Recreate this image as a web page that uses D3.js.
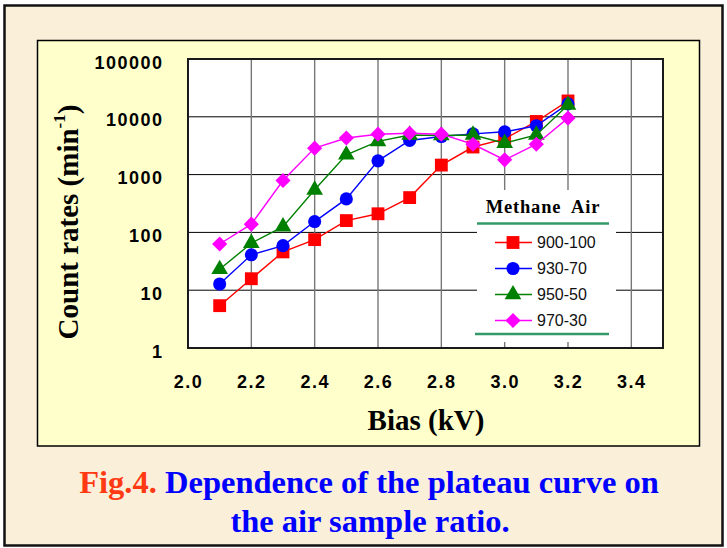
<!DOCTYPE html>
<html>
<head>
<meta charset="utf-8">
<script src="https://cdn.jsdelivr.net/npm/d3@7"></script>
<style>
  body { margin: 0; background: #fff; }
</style>
</head>
<body>
<div id="plateau"></div>
<script>
// values
const biasKV = [2.1, 2.2, 2.3, 2.4, 2.5, 2.6, 2.7, 2.8, 2.9, 3.0, 3.1, 3.2]
const rate900 = [5.4, 15.8, 46, 75, 160, 210, 400, 1460, 3000, 4150, 8300, 18800]
const rate930 = [12.8, 41, 59, 154, 380, 1730, 3900, 4550, 5060, 5500, 7000, 16700]
const rate950 = [23, 65, 126, 545, 2200, 3750, 4850, 4750, 4850, 3500, 4850, 16000]
const rate970 = [63, 139, 790, 2870, 4300, 5000, 5200, 5000, 3350, 1800, 3350, 9500]
const seriesNames = ["900-100", "930-70", "950-50", "970-30"]
const xTicks = [2.0, 2.2, 2.4, 2.6, 2.8, 3.0, 3.2, 3.4]
const yTicks = [1, 10, 100, 1000, 10000, 100000]

const colors = ["#ff0000", "#0000ff", "#008000", "#ff00ff"]
// diamond = square turned 45 degrees
const shapes = [d3.symbolSquare, d3.symbolCircle, d3.symbolTriangle, d3.symbolSquare]
const shapeSize = [165, 135, 120, 115]
const shapeTurn = [0, 0, 0, 45]

let plot = {left: 188, right: 663, top: 59, bottom: 348}

let svg = d3.select("#plateau")
            .append('svg')
            .attr('width', 727)
            .attr('height', 548)

// outer slide frame and chart panel
svg.append('rect')
   .attr('x', 4.5).attr('y', 5.5).attr('width', 718).attr('height', 540)
   .attr('fill', '#faf0da').attr('stroke', '#111').attr('stroke-width', 2.5)
svg.append('rect')
   .attr('x', 37.5).attr('y', 40.5).attr('width', 662).attr('height', 405.5)
   .attr('fill', '#ffffcc').attr('stroke', '#000').attr('stroke-width', 1.5)

let x = d3.scaleLinear()
          .domain([2.0, 3.5])
          .range([plot.left, plot.right])
let y = d3.scaleLog()
          .domain([1, 100000])
          .range([plot.bottom, plot.top])

svg.append('rect')
   .attr('x', plot.left).attr('y', plot.top)
   .attr('width', plot.right - plot.left).attr('height', plot.bottom - plot.top)
   .attr('fill', '#fff')

// grid
svg.append('g')
   .selectAll('line')
   .data(yTicks.slice(1, -1))
   .join('line')
   .attr('x1', plot.left).attr('x2', plot.right)
   .attr('y1', d => y(d)).attr('y2', d => y(d))
   .attr('stroke', '#000').attr('stroke-width', 1)
svg.append('g')
   .selectAll('line')
   .data(xTicks.slice(1))
   .join('line')
   .attr('x1', d => x(d)).attr('x2', d => x(d))
   .attr('y1', plot.top).attr('y2', plot.bottom)
   .attr('stroke', '#777').attr('stroke-width', 1.4)

// legend background hides the grid
let lg = {x: 477, y: 190, w: 139, h: 152}
svg.append('rect')
   .attr('x', lg.x).attr('y', lg.y).attr('width', lg.w).attr('height', lg.h)
   .attr('fill', '#fff')

svg.append('rect')
   .attr('x', plot.left).attr('y', plot.top)
   .attr('width', plot.right - plot.left).attr('height', plot.bottom - plot.top)
   .attr('fill', 'none').attr('stroke', '#1a1a1a').attr('stroke-width', 2)

// axes
let yAxis = svg.append('g')
               .attr('transform', "translate(" + plot.left + ",0)")
               .call(d3.axisLeft(y).tickValues(yTicks).tickFormat(d3.format("d"))
                       .tickSize(0).tickPadding(24.5))
yAxis.select('.domain').remove()
yAxis.selectAll('text')
     .attr('dy', '0.5em')
     .style('font-family', "'Liberation Sans', Arial, sans-serif")
     .style('font-size', '18px').style('font-weight', 'bold')
     .style('letter-spacing', '1.5px').attr('fill', '#000')

let xAxis = svg.append('g')
               .attr('transform', "translate(0," + plot.bottom + ")")
               .call(d3.axisBottom(x).tickValues(xTicks).tickFormat(d3.format(".1f"))
                       .tickSize(0).tickPadding(27))
xAxis.select('.domain').remove()
xAxis.selectAll('text')
     .style('font-family', "'Liberation Sans', Arial, sans-serif")
     .style('font-size', '18px').style('font-weight', 'bold')
     .style('letter-spacing', '1.5px').attr('fill', '#000')

// axis titles
svg.append('text')
   .attr('x', 426).attr('y', 430)
   .attr('text-anchor', 'middle')
   .style('font-family', "'Liberation Serif', 'Times New Roman', serif")
   .style('font-size', '29px').style('font-weight', 'bold')
   .text("Bias (kV)")

let yTitle = svg.append('text')
                .attr('transform', "translate(78,222) rotate(-90)")
                .attr('text-anchor', 'middle')
                .style('font-family', "'Liberation Serif', 'Times New Roman', serif")
                .style('font-size', '29px').style('font-weight', 'bold')
yTitle.append('tspan').text("Count rates (min")
yTitle.append('tspan').attr('dy', -13).style('font-size', '17px').text("-1")
yTitle.append('tspan').attr('dy', 13).text(")")

// series
const allRates = [rate900, rate930, rate950, rate970]
let line = d3.line()
             .x(d => x(d[0]))
             .y(d => y(d[1]))

allRates.forEach(function(rates, i) {
    let pts = biasKV.map((b, k) => [b, rates[k]])
    svg.append('path')
       .datum(pts)
       .attr('d', line)
       .attr('fill', 'none')
       .attr('stroke', colors[i])
       .attr('stroke-width', 1.4)
    svg.append('g')
       .selectAll('path')
       .data(pts)
       .join('path')
       .attr('transform', d => "translate(" + x(d[0]) + "," + y(d[1]) + ") rotate(" + shapeTurn[i] + ")")
       .attr('d', d3.symbol().type(shapes[i]).size(shapeSize[i]))
       .attr('fill', colors[i])
})

// legend
let legend = svg.append('g')
svg.append('text')
   .attr('x', 543).attr('y', 213)
   .attr('text-anchor', 'middle')
   .style('font-family', "'Liberation Serif', 'Times New Roman', serif")
   .style('font-size', '18.5px').style('font-weight', 'bold')
   .style('letter-spacing', '0.8px').style('white-space', 'pre')
   .text("Methane  Air")
svg.append('line')
   .attr('x1', 477).attr('x2', 609).attr('y1', 223.5).attr('y2', 223.5)
   .attr('stroke', '#339966').attr('stroke-width', 2.5)
svg.append('line')
   .attr('x1', 475).attr('x2', 609).attr('y1', 334).attr('y2', 334)
   .attr('stroke', '#339966').attr('stroke-width', 2.5)

seriesNames.forEach(function(name, i) {
    let ry = 242.5 + i * 26
    let row = legend.append('g')
    row.append('line')
       .attr('x1', 495).attr('x2', 532).attr('y1', ry).attr('y2', ry)
       .attr('stroke', colors[i]).attr('stroke-width', 1.4)
    row.append('path')
       .attr('transform', "translate(513," + ry + ") rotate(" + shapeTurn[i] + ")")
       .attr('d', d3.symbol().type(shapes[i]).size(shapeSize[i]))
       .attr('fill', colors[i])
    row.append('text')
       .attr('x', 537).attr('y', ry + 5.5)
       .style('font-family', "'Liberation Sans', Arial, sans-serif")
       .style('font-size', '16px')
       .attr('fill', '#111')
       .text(name)
})

// caption
let cap = svg.append('text')
             .attr('text-anchor', 'middle')
             .style('font-family', "'Liberation Serif', 'Times New Roman', serif")
             .style('font-size', '32.5px').style('font-weight', 'bold')
cap.append('tspan').attr('x', 369).attr('y', 493)
   .attr('fill', '#ff3a12').text("Fig.4. ")
cap.append('tspan').attr('fill', '#0000ff').text("Dependence of the plateau curve on")
svg.append('text')
   .attr('x', 370).attr('y', 531.5)
   .attr('text-anchor', 'middle')
   .style('font-family', "'Liberation Serif', 'Times New Roman', serif")
   .style('font-size', '32.5px').style('font-weight', 'bold')
   .attr('fill', '#0000ff')
   .text("the air sample ratio.")
</script>
</body>
</html>
